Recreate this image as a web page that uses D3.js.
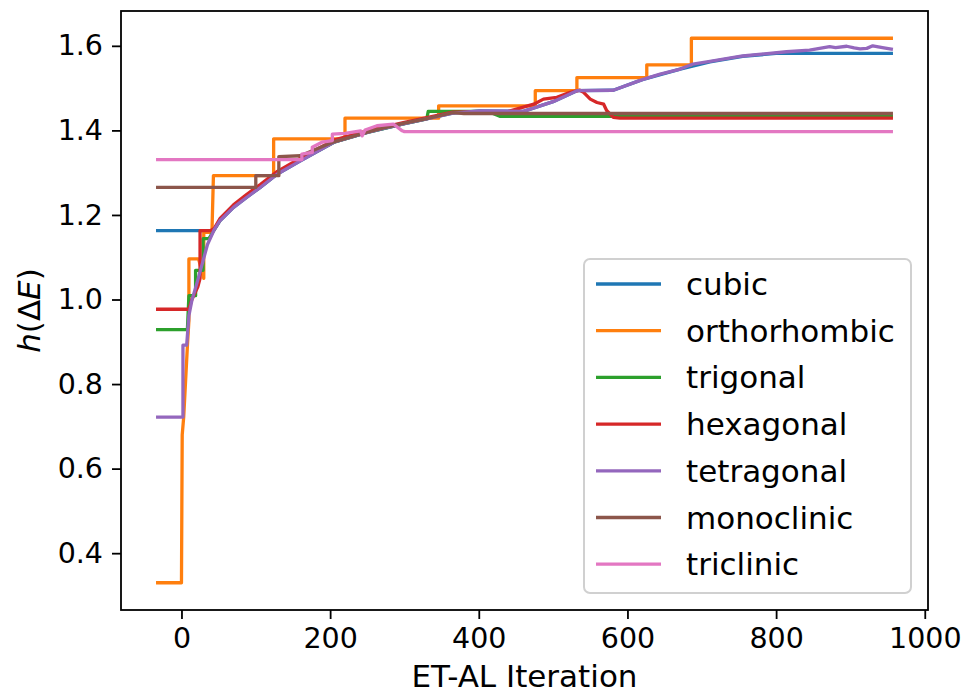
<!DOCTYPE html>
<html>
<head>
<meta charset="utf-8">
<script src="https://cdn.jsdelivr.net/npm/d3@7"></script>
<style>
body { margin: 0; background: #fff; }
text { font-family: "DejaVu Sans", sans-serif; fill: #000; }
</style>
</head>
<body>
<svg id="chart"></svg>
<script>
var WIDTH = 970
var HEIGHT = 694
var margin = {left: 121, right: 42, top: 11, bottom: 84}

// each series is [ET-AL iteration, h(dE)]
var names = ["cubic", "orthorhombic", "trigonal", "hexagonal", "tetragonal", "monoclinic", "triclinic"]
var colors = ["#1f77b4", "#ff7f0e", "#2ca02c", "#d62728", "#9467bd", "#8c564b", "#e377c2"]

var cubic = [[-32,1.163],[41,1.163],[44,1.165],[52,1.187],[70,1.218],[88,1.242],[106,1.265],[129,1.297],[160,1.328],[205,1.372],[250,1.395],[300,1.416],[365,1.441],[402,1.446],[460,1.445],[500,1.468],[532,1.494],[581,1.495],[620,1.52],[671,1.545],[711,1.562],[755,1.575],[800,1.582],[955,1.582]]
var orthorhombic = [[-32,0.33],[0,0.33],[1,0.68],[3,0.722],[8,0.89],[10,0.95],[10,1.096],[23,1.096],[30,1.05],[30,1.159],[41,1.159],[43,1.293],[124,1.293],[124,1.38],[220,1.38],[220,1.429],[346,1.429],[346,1.458],[476,1.458],[476,1.494],[532,1.494],[532,1.525],[626,1.525],[626,1.555],[686,1.555],[686,1.618],[955,1.618]]
var trigonal = [[-32,0.929],[8,0.929],[10,1.009],[19,1.009],[19,1.069],[29,1.069],[29,1.144],[37,1.144],[44,1.165],[52,1.188],[70,1.22],[88,1.244],[106,1.266],[129,1.298],[160,1.33],[205,1.372],[250,1.395],[300,1.416],[330,1.427],[332,1.445],[400,1.445],[415,1.443],[429,1.433],[955,1.433]]
var hexagonal = [[-32,0.977],[10,0.977],[14,1.0],[22,1.03],[25,1.05],[25,1.163],[39,1.163],[44,1.168],[52,1.192],[70,1.224],[88,1.249],[106,1.272],[129,1.303],[160,1.334],[205,1.377],[250,1.399],[300,1.419],[330,1.43],[365,1.443],[440,1.445],[474,1.462],[487,1.474],[505,1.478],[523,1.49],[536,1.495],[541,1.49],[550,1.474],[559,1.466],[568,1.462],[572,1.447],[581,1.431],[590,1.429],[955,1.429]]
var tetragonal = [[-32,0.722],[2,0.722],[2,0.892],[7,0.892],[10,0.962],[14,0.998],[21,1.04],[28,1.085],[35,1.13],[44,1.165],[52,1.187],[70,1.218],[88,1.242],[106,1.265],[129,1.297],[160,1.328],[205,1.372],[250,1.395],[272,1.405],[300,1.416],[330,1.427],[365,1.441],[402,1.446],[460,1.445],[500,1.468],[532,1.494],[581,1.495],[620,1.52],[644,1.533],[671,1.545],[688,1.557],[711,1.563],[755,1.576],[814,1.586],[845,1.59],[872,1.598],[880,1.596],[895,1.599],[905,1.595],[913,1.593],[922,1.594],[930,1.6],[945,1.595],[955,1.592]]
var monoclinic = [[-32,1.265],[100,1.265],[100,1.293],[131,1.293],[131,1.338],[160,1.34],[205,1.373],[250,1.396],[272,1.406],[300,1.417],[330,1.428],[365,1.442],[380,1.44],[955,1.44]]
var triclinic = [[-32,1.331],[162,1.331],[162,1.344],[176,1.348],[176,1.36],[189,1.372],[203,1.376],[203,1.391],[220,1.393],[241,1.399],[243,1.387],[247,1.401],[263,1.411],[285,1.415],[297,1.399],[300,1.397],[955,1.397]]

var xTicks = [0, 200, 400, 600, 800, 1000]
var yTicks = [0.4, 0.6, 0.8, 1.0, 1.2, 1.4, 1.6]

var allSeries = [cubic, orthorhombic, trigonal, hexagonal, tetragonal, monoclinic, triclinic]

var svg = d3.select("#chart")
	.attr("width", WIDTH)
	.attr("height", HEIGHT)

svg.append("rect").attr("width", WIDTH).attr("height", HEIGHT).attr("fill", "#fff")

// matplotlib style 5% margins
var allPts = d3.merge(allSeries)
var xExt = d3.extent(allPts, function(d){ return d[0] })
var yExt = d3.extent(allPts, function(d){ return d[1] })
var xPad = (xExt[1] - xExt[0]) * 0.05
var yPad = (yExt[1] - yExt[0]) * 0.05

var x = d3.scaleLinear()
	.domain([xExt[0] - xPad, xExt[1] + xPad])
	.range([margin.left, WIDTH - margin.right])
var y = d3.scaleLinear()
	.domain([yExt[0] - yPad, yExt[1] + yPad])
	.range([HEIGHT - margin.bottom, margin.top])

var line = d3.line()
	.x(function(d){ return x(d[0]) })
	.y(function(d){ return y(d[1]) })

var plot = svg.append("g")
allSeries.forEach(function(s, i){
	plot.append("path")
		.attr("d", line(s))
		.attr("fill", "none")
		.attr("stroke", colors[i])
		.attr("stroke-width", 3.3)
		.attr("stroke-linejoin", "round")
		.attr("stroke-linecap", "square")
})

// axes
var xAxis = svg.append("g")
	.attr("transform", "translate(0," + (HEIGHT - margin.bottom) + ")")
	.call(d3.axisBottom(x).tickValues(xTicks).tickSize(9).tickPadding(9).tickFormat(d3.format("d")))
var yAxis = svg.append("g")
	.attr("transform", "translate(" + margin.left + ",0)")
	.call(d3.axisLeft(y).tickValues(yTicks).tickSize(9).tickPadding(9).tickFormat(d3.format(".1f")))

;[xAxis, yAxis].forEach(function(a){
	a.select(".domain").remove()
	a.selectAll(".tick line").attr("stroke", "#000").attr("stroke-width", 1.8)
	a.selectAll(".tick text").style("font-size", "28.5px").attr("fill", "#000")
})

svg.append("rect")
	.attr("x", margin.left)
	.attr("y", margin.top)
	.attr("width", WIDTH - margin.left - margin.right)
	.attr("height", HEIGHT - margin.top - margin.bottom)
	.attr("fill", "none")
	.attr("stroke", "#000")
	.attr("stroke-width", 1.8)

// axis labels
svg.append("text")
	.attr("x", (margin.left + WIDTH - margin.right) / 2)
	.attr("y", 687)
	.attr("text-anchor", "middle")
	.style("font-size", "31px")
	.text("ET-AL Iteration")

var yl = svg.append("text")
	.attr("transform", "translate(40," + ((margin.top + HEIGHT - margin.bottom) / 2) + ") rotate(-90)")
	.attr("text-anchor", "middle")
	.style("font-size", "31px")
yl.append("tspan").style("font-style", "italic").text("h")
yl.append("tspan").text("(Δ")
yl.append("tspan").style("font-style", "italic").text("E")
yl.append("tspan").text(")")

// legend
var legend = svg.append("g")
legend.append("rect")
	.attr("x", 584).attr("y", 259)
	.attr("width", 327).attr("height", 334)
	.attr("rx", 6)
	.attr("fill", "#fff").attr("fill-opacity", 0.8)
	.attr("stroke", "#d0d0d0").attr("stroke-width", 2)

names.forEach(function(n, i){
	var ly = 284 + i * 46.7
	legend.append("line")
		.attr("x1", 596).attr("x2", 661)
		.attr("y1", ly).attr("y2", ly)
		.attr("stroke", colors[i]).attr("stroke-width", 3.3)
	legend.append("text")
		.attr("x", 686).attr("y", ly + 11)
		.style("font-size", "31px")
		.text(n)
})
</script>
</body>
</html>
